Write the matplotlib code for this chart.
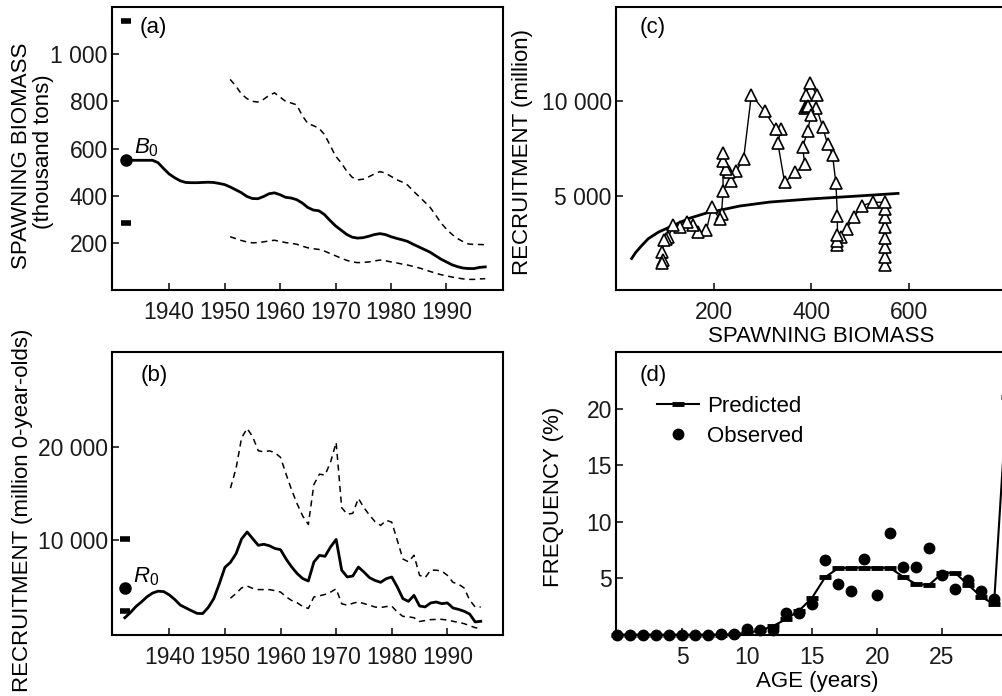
import numpy as np
import matplotlib
matplotlib.use('Agg')
import matplotlib.pyplot as plt

plt.rcParams['font.family'] = ['Liberation Sans', 'DejaVu Sans']
plt.rcParams['mathtext.fontset'] = 'custom'
plt.rcParams['mathtext.rm'] = 'Liberation Sans'
plt.rcParams['mathtext.it'] = 'Liberation Sans:italic'

# ---------------- data ----------------
# (a) spawning biomass (thousand tons)
years_a = np.arange(1932, 1998)
spawn_mid = [550, 550, 550, 550, 550, 550, 540, 515, 492, 476,
             463, 456, 455, 455, 456, 457, 456, 452, 447, 437,
             425, 413, 397, 388, 387, 396, 408, 412, 404, 393,
             390, 383, 369, 350, 339, 336, 320, 295, 272, 254,
             236, 224, 220, 222, 228, 235, 239, 235, 226, 219,
             213, 206, 194, 183, 172, 161, 146, 131, 119, 107,
             99, 93, 91, 91, 96, 98]
years_ci_a = np.arange(1951, 1998)
spawn_hi = [893, 866, 832, 812, 800, 797, 808, 825, 836, 818,
            800, 793, 785, 740, 706, 697, 686, 660, 615, 568,
            540, 505, 478, 467, 470, 480, 492, 502, 496, 482,
            468, 458, 445, 420, 398, 375, 352, 320, 285, 258,
            236, 218, 205, 195, 193, 193, 192]
spawn_lo = [226, 218, 210, 204, 200, 201, 204, 208, 211, 206,
            201, 198, 194, 186, 179, 175, 172, 165, 155, 145,
            135, 126, 119, 116, 117, 119, 123, 127, 124, 119,
            115, 110, 106, 100, 94, 87, 79, 72, 65, 60,
            55, 51, 47, 45, 45, 47, 48]
B0_year, B0_value = 1932.3, 550
B0_bounds = [1140, 285]

# (b) recruitment (million 0-year-olds)
years_b = np.arange(1932, 1997)
rec_mid = [1700, 2250, 2900, 3400, 3950, 4350, 4550, 4500, 4150, 3650,
           3050, 2750, 2450, 2170, 2150, 2800, 3750, 5350, 7100, 7650,
           8570, 10150, 10900, 10180, 9470, 9580, 9420, 9130, 9000, 8000,
           7150, 6430, 5900, 5640, 7680, 8390, 8290, 9300, 10100, 6800,
           6070, 6180, 7140, 6600, 6000, 5700, 5500, 5890, 6070, 5000,
           3750, 3460, 4100, 2960, 2860, 3290, 3390, 3210, 3290, 2750,
           2600, 2400, 2100, 1250, 1320]
years_ci_b = np.arange(1951, 1997)
rec_hi = [15600, 17700, 21000, 22000, 21100, 19600, 19500, 19600, 19400, 18900,
          17100, 15400, 13900, 12600, 11700, 16000, 17100, 17000, 18400, 20500,
          13500, 12800, 12900, 14500, 13500, 12700, 12000, 11600, 12150, 11950,
          10000, 8000, 7700, 8400, 6250, 6000, 6800, 6800, 6700, 6250,
          5500, 5300, 4900, 3600, 2850, 2850]
rec_lo = [3800, 4300, 4900, 5100, 4850, 4720, 4720, 4720, 4600, 4460,
          3950, 3550, 3300, 2900, 2700, 3930, 4050, 4200, 4450, 4800,
          3200, 3050, 3250, 3400, 3220, 3050, 2850, 2800, 2900, 2950,
          2300, 1850, 1800, 1700, 1300, 1400, 1500, 1520, 1530, 1450,
          1320, 1200, 1070, 850, 640, 540]
R0_year, R0_value = 1932.1, 4900
R0_bounds = [10100, 2400]

# (c) stock-recruitment pairs
c_spawn = [550, 550, 550, 550, 550, 550, 550, 550,
           525, 504, 487, 472, 460, 453, 453, 453, 453, 450,
           443, 433, 423, 410, 411, 396, 389, 386, 390, 392,
           399, 392, 382, 386, 367, 345, 331, 338, 328, 304,
           277, 261, 246, 236, 231, 225, 218, 219, 219, 216,
           212, 196, 185, 168, 158, 145, 131, 117, 107, 103,
           99, 94, 96, 94]
c_recr = [1316, 1755, 2281, 2772, 3333, 3895, 4300, 4650,
          4650, 4474, 3895, 3246, 2807, 2368, 2600, 2895, 3947, 5649,
          7158, 7719, 8632, 9649, 10350, 10965, 10350, 9649, 9700, 9750,
          9298, 8421, 7579, 6667, 6228, 5702, 7807, 8508, 8508, 9474,
          10350, 6930, 6316, 5789, 6228, 6403, 6842, 7280, 5263, 4035,
          3772, 4386, 3158, 3070, 3421, 3596, 3333, 3421, 2806, 2700,
          2631, 2017, 1579, 1405]
curve_s = [32, 40, 50, 66, 87, 117, 150, 185, 253, 314, 400, 450, 500, 577]
curve_r = [1667, 1980, 2281, 2720, 3070, 3421, 3800, 4080, 4450, 4660, 4830, 4910, 4990, 5120]

# (d) age composition (%)
ages_obs = np.arange(0, 30)
freq_obs = [0, 0, 0, 0, 0, 0, 0, 0, 0.05, 0.1,
            0.5, 0.44, 0.44, 1.97, 1.97, 2.73, 6.6, 4.53, 3.9, 6.7,
            3.57, 9.03, 6.0, 6.05, 7.65, 5.28, 4.06, 4.83, 3.89, 3.17]
ages_pred = np.arange(0, 31)
freq_pred = [0, 0, 0, 0, 0, 0, 0, 0, 0.02, 0.05,
             0.2, 0.4, 0.8, 1.4, 2.15, 3.3, 5.1, 5.9, 5.95, 5.95,
             5.95, 5.92, 5.15, 4.5, 4.42, 5.45, 5.5, 4.45, 3.4, 2.7, 21.0]

# ---------------- figure ----------------
W, H = 1003, 696
fig = plt.figure(figsize=(W / 100, H / 100), dpi=100)


def ax_at(l, t, w, h):
    return fig.add_axes([l / W, 1 - (t + h) / H, w / W, h / H])


ax_a = ax_at(112, 7, 391, 283)
ax_b = ax_at(112, 352, 391, 283)
ax_c = ax_at(616, 7, 391, 283)
ax_d = ax_at(616, 352, 391, 283)

FS = 16
for ax in (ax_a, ax_b, ax_c, ax_d):
    for s in ax.spines.values():
        s.set_linewidth(1.5)
    ax.tick_params(direction='in', length=5, width=1.2, labelsize=16.5, colors='#1a1a1a')
    ax.tick_params(axis='x', pad=8)
    ax.tick_params(axis='y', pad=3)

# (a)
ax_a.plot(years_a, spawn_mid, color='k', lw=2.0, solid_joinstyle='round')
ax_a.plot(years_ci_a, spawn_hi, color='k', lw=1.1, ls=(0, (4, 3)))
ax_a.plot(years_ci_a, spawn_lo, color='k', lw=1.1, ls=(0, (4, 3)))
ax_a.plot([B0_year], [B0_value], 'o', color='k', ms=8, clip_on=False)
ax_a.plot([B0_year] * 2, B0_bounds, ls='none', marker='_', color='k', ms=7, mew=4)
ax_a.set_xlim(1929.7, 2000.2)
ax_a.set_ylim(0, 1200)
ax_a.set_xticks([1940, 1950, 1960, 1970, 1980, 1990])
ax_a.set_yticks([200, 400, 600, 800, 1000])
ax_a.set_yticklabels(['200', '400', '600', '800', '1 000'])
ax_a.text(1933.7, 580, r'$B_0$', fontsize=16, ha='left', va='baseline')

# (b)
ax_b.plot(years_b, rec_mid, color='k', lw=2.0)
ax_b.plot(years_ci_b, rec_hi, color='k', lw=1.1, ls=(0, (4, 3)))
ax_b.plot(years_ci_b, rec_lo, color='k', lw=1.1, ls=(0, (4, 3)))
ax_b.plot([R0_year], [R0_value], 'o', color='k', ms=8, clip_on=False)
ax_b.plot([R0_year] * 2, R0_bounds, ls='none', marker='_', color='k', ms=7, mew=4)
ax_b.set_xlim(1929.7, 2000.0)
ax_b.set_ylim(-150, 30200)
ax_b.set_xticks([1940, 1950, 1960, 1970, 1980, 1990])
ax_b.set_yticks([10000, 20000])
ax_b.set_yticklabels(['10 000', '20 000'])
ax_b.text(1933.4, 5450, r'$R_0$', fontsize=16, ha='left', va='baseline')

# (c)
ax_c.plot(curve_s, curve_r, color='k', lw=2.0)
ax_c.plot(c_spawn, c_recr, color='k', lw=1.0, marker='^', ms=9,
          mfc='white', mec='k', mew=1.2)
ax_c.set_xlim(0, 800)
ax_c.set_ylim(0, 15000)
ax_c.set_xticks([200, 400, 600])
ax_c.set_yticks([5000, 10000])
ax_c.set_yticklabels(['5 000', '10 000'])

# (d)
ax_d.plot(ages_pred, freq_pred, color='k', lw=1.5, marker='_', ms=9, mew=3.5,
          clip_on=False, zorder=3, label='Predicted')
ax_d.plot(ages_obs, freq_obs, 'o', color='k', ms=7.5, clip_on=False, zorder=4,
          label='Observed')
ax_d.set_xlim(-0.1, 30.0)
ax_d.set_ylim(0, 25)
ax_d.set_xticks([5, 10, 15, 20, 25])
ax_d.set_yticks([5, 10, 15, 20])
ax_d.legend(loc='upper left', bbox_to_anchor=(0.105, 0.845), frameon=False,
            fontsize=FS, borderpad=0, borderaxespad=0, handlelength=1.9,
            handletextpad=0.35, labelspacing=0.42, numpoints=1)

# panel letters
for txt, (x, y) in {'(a)': (140, 27), '(b)': (141, 376),
                    '(c)': (640, 27), '(d)': (640, 376)}.items():
    fig.text(x / W, 1 - y / H, txt, fontsize=FS, ha='left', va='center')

# axis labels
fig.text(22 / W, 1 - 156 / H, 'SPAWNING BIOMASS', rotation=90, fontsize=FS,
         ha='center', va='center')
fig.text(44 / W, 1 - 152 / H, '(thousand tons)', rotation=90, fontsize=FS,
         ha='center', va='center')
fig.text(23 / W, 1 - 510 / H, 'RECRUITMENT (million 0-year-olds)', rotation=90,
         fontsize=FS, ha='center', va='center')
fig.text(523 / W, 1 - 152 / H, 'RECRUITMENT (million)', rotation=90,
         fontsize=FS, ha='center', va='center')
fig.text(553 / W, 1 - 497 / H, 'FREQUENCY (%)', rotation=90,
         fontsize=FS, ha='center', va='center')
fig.text(821 / W, 1 - 337 / H, 'SPAWNING BIOMASS', fontsize=FS,
         ha='center', va='center')
fig.text(817 / W, 1 - 682 / H, 'AGE (years)', fontsize=FS,
         ha='center', va='center')

fig.savefig('out.png', dpi=100)
